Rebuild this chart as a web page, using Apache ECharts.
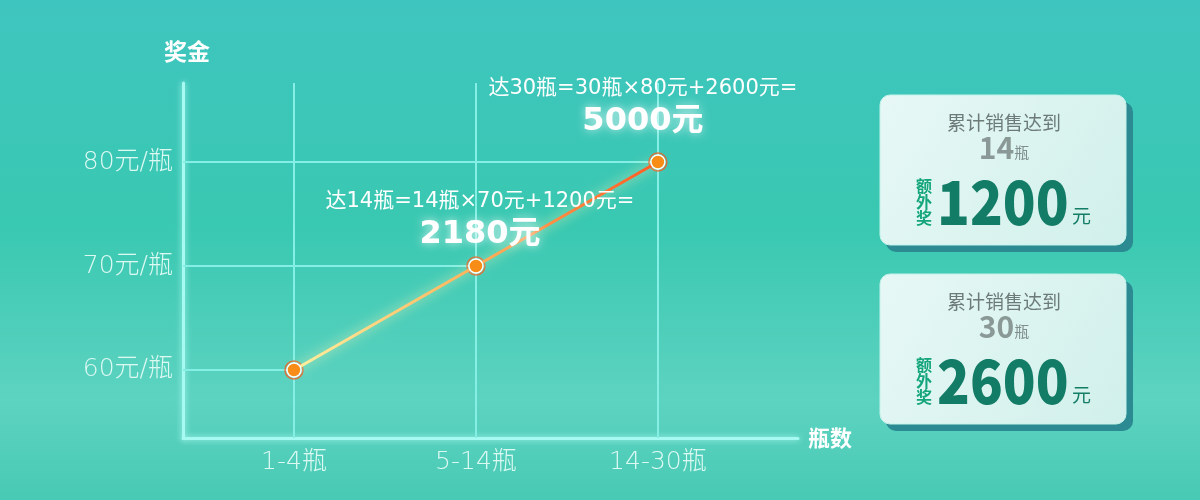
<!DOCTYPE html>
<html>
<head>
<meta charset="UTF-8">
<title>奖金</title>
<script src="https://cdn.jsdelivr.net/npm/echarts@6.0.0/dist/echarts.min.js"></script>
<style>
  html, body { margin: 0; padding: 0; }
  #chart { width: 1200px; height: 500px; }
</style>
</head>
<body>
<div id="chart"></div>
<script type="text/javascript">
// 数据
var tierLabels = ['1-4瓶', '5-14瓶', '14-30瓶'];
var pricePerBottle = [60, 70, 80];
var bottleCounts = [null, 14, 30];
var extraBonus = [null, 1200, 2600];
var priceTicks = [60, 70, 80];

var FONT = '"Noto Sans CJK SC", "Noto Sans", sans-serif';
var NUMFONT = '"DejaVu Sans", "Noto Sans CJK SC", sans-serif';
var X_MIN = -0.61, X_MAX = 2.77;
var Y_MIN = 53.46, Y_MAX = 87.6;

var chart = echarts.init(document.getElementById('chart'));

// 点上方的计算说明
var labelOffsets = [[0, 0], [4, 0], [-15, -9]];
var pointData = pricePerBottle.map(function (v, i) {
  return { value: [i, v], label: { offset: labelOffsets[i] } };
});

// 网格线: 竖线贯穿, 横线只到数据点
var gridLines = tierLabels.map(function (t, i) { return { xAxis: i }; });
pricePerBottle.forEach(function (v, i) {
  gridLines.push([{ coord: [X_MIN, v] }, { coord: [i, v] }]);
});

// 右侧卡片
var graphics = [];
[1, 2].forEach(function (idx, k) {
  var top = 95 + k * 179;
  graphics.push({
    type: 'rect', x: 886, y: top + 7,
    shape: { width: 247, height: 150, r: 10 },
    style: { fill: '#2b8a92' }, silent: true
  });
  graphics.push({
    type: 'rect', x: 880, y: top,
    shape: { width: 246, height: 150, r: 10 },
    style: {
      fill: new echarts.graphic.LinearGradient(0, 0, 1, 1, [
        { offset: 0, color: '#e7f8f5' }, { offset: 1, color: '#d1f0eb' }
      ]),
      stroke: '#c4f2ea', lineWidth: 1
    }, silent: true
  });
  graphics.push({
    type: 'text', x: 1004, y: top + 28,
    style: { text: '累计销售达到', font: '19px ' + FONT, fill: '#6d7b78', align: 'center', verticalAlign: 'middle' }
  });
  graphics.push({
    type: 'text', x: 1004, y: top + 53,
    style: {
      text: '{n|' + bottleCounts[idx] + '}{u|瓶}',
      align: 'center', verticalAlign: 'middle',
      rich: {
        n: { fontSize: 30, fontWeight: 'bold', fontFamily: FONT, fill: '#8a9996' },
        u: { fontSize: 15, fontFamily: FONT, fill: '#7f8e8b', padding: [9, 0, 0, 0] }
      }
    }
  });
  ['额', '外', '奖'].forEach(function (ch, j) {
    graphics.push({
      type: 'text', x: 924, y: top + 91 + j * 16,
      style: { text: ch, font: 'bold 16px ' + FONT, fill: '#14a57c', align: 'center', verticalAlign: 'middle' }
    });
  });
  graphics.push({
    type: 'text', x: 937, y: top + 107, scaleX: 0.9,
    style: {
      text: String(extraBonus[idx]), font: '900 60px ' + FONT, fill: '#127c66',
      verticalAlign: 'middle',
      textShadowColor: '#3fe3b8', textShadowOffsetX: -1.5, textShadowOffsetY: -1, textShadowBlur: 0
    }
  });
  graphics.push({
    type: 'text', x: 1072, y: top + 121,
    style: { text: '元', font: '19px ' + FONT, fill: '#137d66', verticalAlign: 'middle' }
  });
});

var option = {
  backgroundColor: new echarts.graphic.LinearGradient(0, 0, 0, 1, [
    { offset: 0, color: '#3fc5bf' },
    { offset: 0.45, color: '#39c8b1' },
    { offset: 0.8, color: '#5dd3c1' },
    { offset: 1, color: '#48cab4' }
  ]),
  textStyle: { fontFamily: FONT },
  grid: { left: 183, right: 402, top: 83, bottom: 62, containLabel: false },
  xAxis: {
    type: 'value', min: X_MIN, max: X_MAX,
    name: '瓶数', nameLocation: 'end', nameGap: 10,
    nameTextStyle: { color: '#fff', fontSize: 22, fontWeight: 'bold', align: 'left', verticalAlign: 'middle' },
    axisLine: { show: true, onZero: false, lineStyle: { color: '#a6faf2', width: 3, shadowBlur: 6, shadowColor: 'rgba(190,255,250,0.9)' } },
    axisTick: { show: false },
    splitLine: { show: false },
    axisLabel: {
      customValues: [0, 1, 2], margin: 12,
      color: '#dcf9f2', fontSize: 25, fontFamily: NUMFONT, fontWeight: 300,
      formatter: function (v) { return tierLabels[v]; }
    }
  },
  yAxis: {
    type: 'value', min: Y_MIN, max: Y_MAX,
    name: '奖金', nameLocation: 'end', nameGap: 20,
    nameTextStyle: { color: '#fff', fontSize: 23, fontWeight: 'bold', align: 'center', padding: [0, 0, 0, 8] },
    axisLine: { show: true, onZero: false, lineStyle: { color: '#a6faf2', width: 3, shadowBlur: 6, shadowColor: 'rgba(190,255,250,0.9)' } },
    axisTick: { show: false },
    splitLine: { show: false },
    axisLabel: {
      customValues: priceTicks, margin: 10,
      color: '#dcf9f2', fontSize: 25, fontFamily: NUMFONT, fontWeight: 300,
      formatter: function (v) { return v + '元/瓶'; }
    }
  },
  graphic: graphics,
  series: [{
    type: 'line',
    data: pointData,
    z: 3,
    symbol: 'circle',
    symbolSize: 14,
    itemStyle: { color: '#f78d17', borderColor: '#fff', borderWidth: 1.5 },
    lineStyle: {
      width: 3,
      color: new echarts.graphic.LinearGradient(0, 0, 1, 0, [
        { offset: 0, color: '#fff1a0' },
        { offset: 0.5, color: '#ffb25a' },
        { offset: 1, color: '#ff5a22' }
      ]),
      shadowBlur: 12, shadowColor: 'rgba(255,245,180,0.95)'
    },
    label: {
      show: true, position: 'top', distance: 5, align: 'center',
      formatter: function (p) {
        var i = p.dataIndex;
        if (!bottleCounts[i]) return '';
        var total = bottleCounts[i] * pricePerBottle[i] + extraBonus[i];
        return '{a|达' + bottleCounts[i] + '瓶=' + bottleCounts[i] + '瓶×' + pricePerBottle[i] +
          '元+' + extraBonus[i] + '元=}\n{b|' + total + '元}';
      },
      rich: {
        a: { color: '#fff', fontSize: 21, lineHeight: 28, fontFamily: NUMFONT },
        b: {
          color: '#fff', fontSize: 32, fontWeight: 'bold', lineHeight: 38, fontFamily: NUMFONT,
          textShadowBlur: 10, textShadowColor: 'rgba(255,255,255,0.75)'
        }
      }
    },
    markLine: {
      silent: true, symbol: 'none', z: 1,
      label: { show: false },
      lineStyle: { color: '#86efe5', width: 2, type: 'solid' },
      emphasis: { disabled: true },
      data: gridLines
    }
  }, {
    type: 'scatter',
    data: pricePerBottle.map(function (v, i) { return [i, v]; }),
    z: 2,
    symbolSize: 18,
    silent: true,
    itemStyle: { color: 'rgba(0,0,0,0)', borderColor: '#f35a1d', borderWidth: 1.5 }
  }]
};

chart.setOption(option);
</script>
</body>
</html>
